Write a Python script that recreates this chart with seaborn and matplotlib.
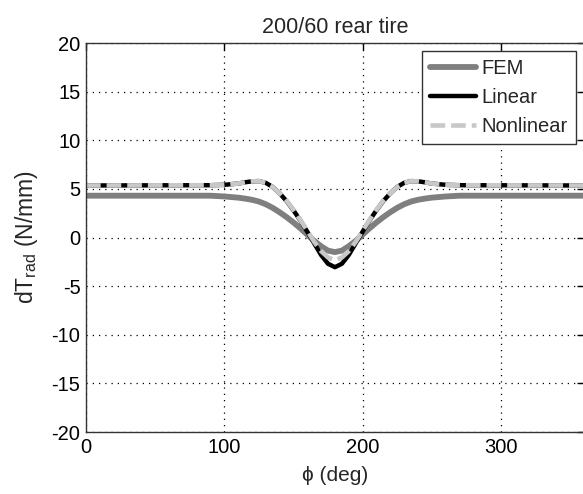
import numpy as np
import pandas as pd
import matplotlib
matplotlib.use("Agg")
import matplotlib.pyplot as plt
import seaborn as sns

# angle (deg) and radial force variation dT_rad (N/mm)
angle = [0, 90, 100, 110, 115, 120, 125, 130, 135, 140, 145, 150, 155, 160, 165, 170, 175,
         180, 185, 190, 195, 200, 205, 210, 215, 220, 225, 230, 235, 240, 245, 250, 260, 270, 360]
fem = [4.3, 4.3, 4.22, 4.1, 4.0, 3.88, 3.7, 3.42, 3.05, 2.6, 2.1, 1.55, 0.95, 0.3, -0.35, -0.9, -1.35,
       -1.5, -1.35, -0.9, -0.35, 0.3, 0.95, 1.55, 2.1, 2.6, 3.05, 3.42, 3.7, 3.88, 4.0, 4.1, 4.22, 4.3, 4.3]
linear = [5.35, 5.38, 5.42, 5.55, 5.68, 5.78, 5.8, 5.62, 5.2, 4.55, 3.75, 2.8, 1.75, 0.6, -0.6, -1.8, -2.7,
          -3.05, -2.7, -1.8, -0.6, 0.6, 1.75, 2.8, 3.75, 4.55, 5.2, 5.62, 5.8, 5.78, 5.68, 5.55, 5.42, 5.38, 5.35]
nonlinear = [5.35, 5.38, 5.42, 5.55, 5.68, 5.78, 5.8, 5.62, 5.2, 4.55, 3.78, 2.85, 1.8, 0.7, -0.45, -1.4, -2.05,
             -2.35, -2.05, -1.4, -0.45, 0.7, 1.8, 2.85, 3.78, 4.55, 5.2, 5.62, 5.8, 5.78, 5.68, 5.55, 5.42, 5.38, 5.35]

xticks = [0, 100, 200, 300]
yticks = [-20, -15, -10, -5, 0, 5, 10, 15, 20]

df = pd.DataFrame({'angle': angle, 'FEM': fem, 'Linear': linear, 'Nonlinear': nonlinear})

sns.set_style("white")
plt.rcParams['font.family'] = ['Liberation Sans', 'DejaVu Sans']
plt.rcParams['axes.unicode_minus'] = False
plt.rcParams['mathtext.fontset'] = 'custom'
plt.rcParams['mathtext.rm'] = 'Liberation Sans'
plt.rcParams['mathtext.it'] = 'Liberation Sans:italic'

fig = plt.figure(figsize=(5.83, 4.94), dpi=100)
ax = fig.add_axes([0.1475, 0.1255, 0.854, 0.7874])

sns.lineplot(data=df, x='angle', y='FEM', ax=ax, color='#7f7f7f', lw=4.2, label='FEM')
sns.lineplot(data=df, x='angle', y='Linear', ax=ax, color='black', lw=3.2, label='Linear')
sns.lineplot(data=df, x='angle', y='Nonlinear', ax=ax, color='#c8c8c8', lw=3.3,
             linestyle=(0, (3.2, 1.3)), label='Nonlinear')

ax.set_xlim(0, 360)
ax.set_ylim(-20, 20)
ax.set_xticks(xticks)
ax.set_yticks(yticks)
ax.tick_params(direction='in', length=5, width=1, top=True, right=True,
               labelsize=14.5, colors='black', pad=4)
ax.grid(True, linestyle=(0, (1, 4)), color='black', lw=0.9)
for s in ax.spines.values():
    s.set_color('#333333')
    s.set_linewidth(1)

ax.set_title('200/60 rear tire', fontsize=15.5, pad=7)
ax.set_xlabel('\u03d5 (deg)', fontsize=15, labelpad=7)
ax.set_ylabel('dT$_{\\mathrm{rad}}$ (N/mm)', fontsize=16.5, labelpad=8)

leg = ax.legend(loc='upper right', fontsize=14.5, frameon=True, fancybox=False,
                handlelength=2.3, handletextpad=0.25, borderpad=0.4, labelspacing=0.5,
                borderaxespad=0.4)
leg.get_frame().set_edgecolor('#333333')
leg.get_frame().set_linewidth(1)
leg.get_frame().set_alpha(1)

fig.savefig('out.png', dpi=100)
